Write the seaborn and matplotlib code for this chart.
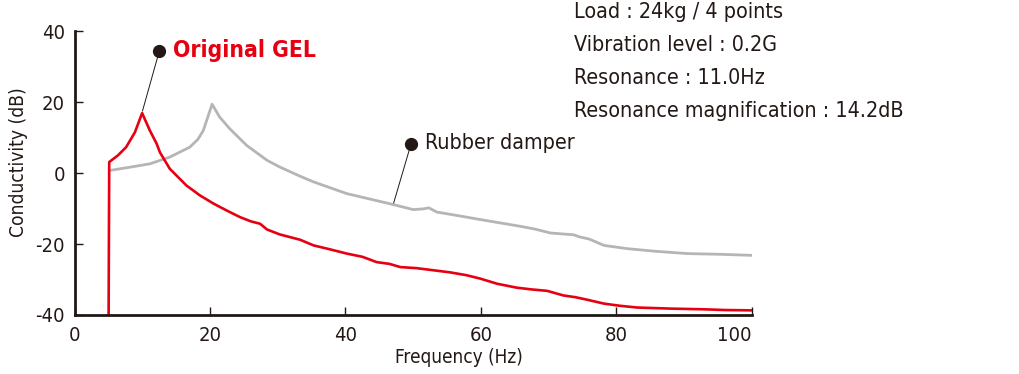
import pandas as pd
import matplotlib
matplotlib.use('Agg')
import matplotlib.pyplot as plt
import seaborn as sns

# values
gel_freq = [5.0, 5.1, 6.4, 7.6, 8.9, 9.96, 11.1, 12.1, 12.6, 14.05, 16.5, 18.5, 20.5,
            22.5, 24.4, 26.0, 27.4, 28.4, 30.3, 33.3, 35.3, 37.5, 40.2, 42.5, 44.6,
            46.5, 48.1, 50.5, 53.0, 55.5, 57.9, 60.0, 62.4, 65.3, 67.5, 69.8, 72.2,
            74.0, 75.7, 78.2, 80.5, 83.1, 88.0, 93.0, 96.0, 100.0]
gel_db = [-45, 3.1, 5.0, 7.3, 11.5, 16.9, 12.0, 8.3, 5.8, 1.2, -3.5, -6.3, -8.6,
          -10.6, -12.4, -13.6, -14.3, -15.9, -17.3, -18.8, -20.4, -21.4, -22.7, -23.6, -25.1,
          -25.6, -26.5, -26.8, -27.4, -28.0, -28.8, -29.8, -31.2, -32.3, -32.8, -33.2, -34.5,
          -35.0, -35.7, -36.8, -37.4, -37.9, -38.2, -38.4, -38.6, -38.7]

rubber_freq = [5.4, 8.0, 11.1, 14.05, 17.0, 18.2, 19.0, 20.3, 21.4, 22.9, 25.4, 28.4,
               30.3, 33.3, 35.3, 40.2, 44.0, 47.1, 50.0, 51.5, 52.3, 53.5, 56.0, 59.9,
               63.0, 65.8, 68.0, 70.3, 73.7, 74.6, 76.0, 78.2, 81.6, 85.5, 90.5, 95.4, 100.1]
rubber_db = [0.8, 1.6, 2.6, 4.5, 7.3, 9.5, 12.0, 19.4, 15.8, 12.5, 7.8, 3.6,
             1.7, -0.9, -2.5, -5.8, -7.5, -8.9, -10.3, -10.1, -9.8, -11.0, -11.8, -13.1,
             -14.1, -15.0, -15.8, -16.9, -17.4, -18.0, -18.6, -20.4, -21.3, -22.0, -22.7, -22.9, -23.2]

conditions = ['Load : 24kg / 4 points', 'Vibration level : 0.2G',
              'Resonance : 11.0Hz', 'Resonance magnification : 14.2dB']
x_ticks = [0, 20, 40, 60, 80, 100]
y_ticks = [-40, -20, 0, 20, 40]

RED = '#e60012'
GRAY = '#b5b5b5'
INK = '#231815'

sns.set_style('ticks')
plt.rcParams['font.family'] = ['Liberation Sans Narrow', 'DejaVu Sans']
plt.rcParams['font.stretch'] = 'condensed'
plt.rcParams['axes.unicode_minus'] = False

gel = pd.DataFrame({'freq': gel_freq, 'db': gel_db})
rubber = pd.DataFrame({'freq': rubber_freq, 'db': rubber_db})

fig = plt.figure(figsize=(10.19, 3.74), dpi=100)
ax = fig.add_axes([0.0733, 0.1578, 0.665, 0.759])

sns.lineplot(data=rubber, x='freq', y='db', ax=ax, color=GRAY, lw=2.0,
             estimator=None, sort=False)
sns.lineplot(data=gel, x='freq', y='db', ax=ax, color=RED, lw=1.9,
             estimator=None, sort=False)

ax.set_xlim(0, 100.1)
ax.set_ylim(-40, 40)
ax.set_xticks(x_ticks)
ax.set_yticks(y_ticks)
ax.tick_params(direction='in', length=6, width=1, color=INK, labelcolor=INK,
               labelsize=14.5)
ax.tick_params(axis='y', pad=7)
ax.tick_params(axis='x', pad=8)
ax.get_xticklabels()[-1].set_horizontalalignment('right')
sns.despine(ax=ax)
for s in ['left', 'bottom']:
    ax.spines[s].set_linewidth(2)
    ax.spines[s].set_color(INK)

ax.set_xlabel('')
ax.set_ylabel('')
fig.text(0.450, 0.043, 'Frequency (Hz)', ha='center', va='center', fontsize=13.6, color=INK)
fig.text(0.018, 0.567, 'Conductivity (dB)', ha='center', va='center', rotation=90,
         fontsize=13.8, color=INK)

# callouts
ax.annotate('', xy=(9.9, 16.7), xytext=(12.5, 34.4),
            arrowprops=dict(arrowstyle='-', color=INK, lw=0.7))
ax.plot([12.5], [34.4], 'o', color=INK, ms=8.5)
fig.text(0.170, 0.866, 'Original GEL', ha='left', va='center', fontsize=16.4,
         fontweight='bold', color=RED)

ax.annotate('', xy=(47.0, -9.2), xytext=(49.7, 8.3),
            arrowprops=dict(arrowstyle='-', color=INK, lw=0.7))
ax.plot([49.7], [8.3], 'o', color=INK, ms=8.5)
fig.text(0.417, 0.618, 'Rubber damper', ha='left', va='center', fontsize=15.4, color=INK)

for i, line in enumerate(conditions):
    fig.text(0.563, 1 - (12 + 33 * i) / 374, line, ha='left', va='center',
             fontsize=15.4, color=INK)

fig.savefig('out.png', dpi=100)
